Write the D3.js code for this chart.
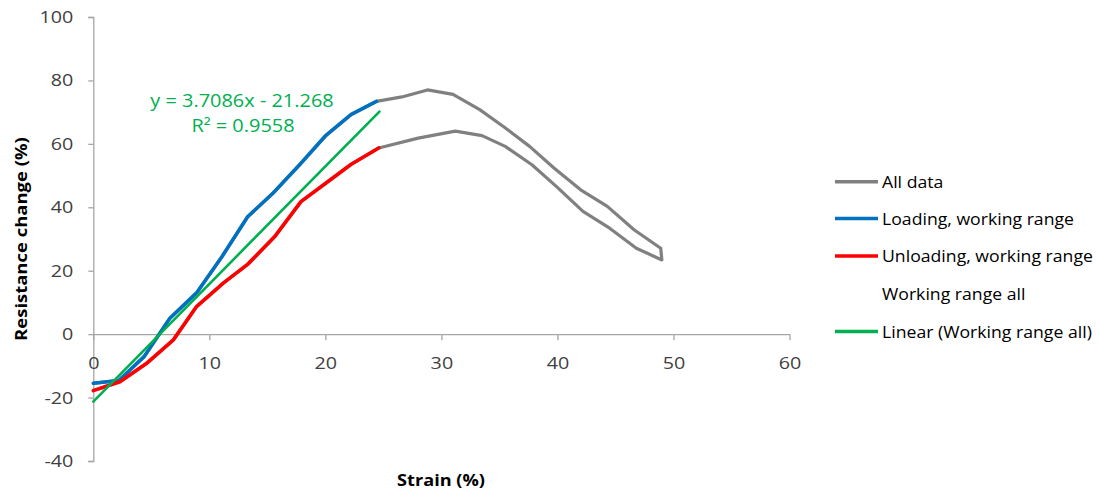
<!DOCTYPE html>
<html><head><meta charset="utf-8">
<script src="https://cdn.jsdelivr.net/npm/d3@7"></script>
<style>
body{margin:0;background:#fff;}
text{font-family:"Open Sans",Lato,sans-serif;}
</style></head>
<body><svg id="c" width="1099" height="492"></svg>
<script>
// ---- data ----
const allStrain = [0,2.2,4.4,6.6,8.9,11.1,13.3,15.5,17.8,20,22.2,24.4,26.6,28.8,31.0,33.3,35.4,37.6,39.7,42.0,44.3,46.6,48.9,49.0,46.8,44.5,42.2,39.9,37.8,35.5,33.5,31.2,28.0,24.6,22.2,20,17.9,15.6,13.3,11.2,8.9,6.9,4.6,2.3,0];
const allValue  = [-15.5,-14.6,-7.0,5.0,13.0,24.5,37.0,44.5,53.5,62.5,69.2,73.4,74.8,77.0,75.6,70.8,65.3,59.2,52.4,45.5,40.3,32.9,27.1,23.4,27.1,33.4,38.7,46.6,53.4,59.2,62.6,64.0,61.8,58.7,53.5,47.5,41.8,30.6,22.0,16.1,8.7,-1.8,-9.2,-15.0,-17.8];
const loadStrain = [0,2.2,4.4,6.6,8.9,11.1,13.3,15.5,17.8,20,22.2,24.4];
const loadValue  = [-15.5,-14.6,-7.0,5.0,13.0,24.5,37.0,44.5,53.5,62.5,69.2,73.4];
const unloadStrain = [0,2.3,4.6,6.9,8.9,11.2,13.3,15.6,17.9,20,22.2,24.6];
const unloadValue  = [-17.8,-15.0,-9.2,-1.8,8.7,16.1,22.0,30.6,41.8,47.5,53.5,58.7];
const fitSlope = 3.7086, fitIntercept = -21.268;
const fitRange = [0,24.66];
const xTicks = [0,10,20,30,40,50,60];
const yTicks = [-40,-20,0,20,40,60,80,100];
const legendLabels = ["All data","Loading, working range","Unloading, working range","Working range all","Linear (Working range all)"];
const legendColors = ["#808080","#0070C0","#FF0000",null,"#00B050"];

// ---- chart ----
const svg = d3.select("#c");
const x = d3.scaleLinear().domain([0,60]).range([93.3,789.5]);
const y = d3.scaleLinear().domain([-40,100]).range([461,17]);
const axisCol = "#a6a6a6", txtCol = "#404040";
const fmt = d => String(d);  // hyphen-minus like the original

// widen text horizontally (original font is wider than the available ones)
function stretch(sel, s){
  sel.each(function(){
    const t = d3.select(this);
    const xx = +t.attr("x") || 0, yy = +t.attr("y") || 0;
    t.attr("x",0).attr("y",0).attr("transform",`translate(${xx},${yy}) scale(${s},1)`);
  });
}

// y axis
const ya = svg.append("g").attr("transform",`translate(${x(0)},0)`)
  .call(d3.axisLeft(y).tickValues(yTicks).tickSize(5).tickPadding(15).tickFormat(fmt));
ya.select(".domain").attr("stroke",axisCol).attr("stroke-width",1.3);
ya.selectAll(".tick line").attr("stroke",axisCol).attr("stroke-width",1.3);
ya.selectAll(".tick text").attr("fill",txtCol).style("font-size","17px").style("font-family","'Open Sans',Lato,sans-serif");
stretch(ya.selectAll(".tick text"), 1.16);

// x axis at y=0
const xa = svg.append("g").attr("transform",`translate(0,${y(0)})`)
  .call(d3.axisBottom(x).tickValues(xTicks).tickSize(6).tickPadding(17).tickSizeOuter(0).tickFormat(fmt));
xa.select(".domain").attr("stroke",axisCol).attr("stroke-width",1.3);
xa.selectAll(".tick line").attr("stroke",axisCol).attr("stroke-width",1.3);
xa.selectAll(".tick text").attr("fill",txtCol).style("font-size","17px").style("font-family","'Open Sans',Lato,sans-serif");
stretch(xa.selectAll(".tick text"), 1.16);

// titles
svg.append("text").attr("transform",`translate(27,239) rotate(-90) scale(1.12,1)`).attr("text-anchor","middle")
  .style("font-size","16.5px").style("font-weight","bold").attr("fill","#000").text("Resistance change (%)");
stretch(svg.append("text").attr("x",441).attr("y",486).attr("text-anchor","middle")
  .style("font-size","16.5px").style("font-weight","bold").attr("fill","#000").text("Strain (%)"), 1.1);

const line = d3.line().x(d=>x(d[0])).y(d=>y(d[1]));
svg.append("path").datum(d3.zip(allStrain,allValue)).attr("d",line)
  .attr("fill","none").attr("stroke","#808080").attr("stroke-width",3.2).attr("stroke-linejoin","round");
svg.append("path").datum(d3.zip(loadStrain,loadValue)).attr("d",line)
  .attr("fill","none").attr("stroke","#0070C0").attr("stroke-width",3.6).attr("stroke-linejoin","round").attr("stroke-linecap","round");
svg.append("path").datum(d3.zip(unloadStrain,unloadValue)).attr("d",line)
  .attr("fill","none").attr("stroke","#FF0000").attr("stroke-width",3.6).attr("stroke-linejoin","round").attr("stroke-linecap","round");
svg.append("path").datum(fitRange.map(v=>[v,fitSlope*v+fitIntercept])).attr("d",line)
  .attr("fill","none").attr("stroke","#00B050").attr("stroke-width",2.6).attr("stroke-linecap","round");

// equation
stretch(svg.append("text").attr("x",242).attr("y",107).attr("text-anchor","middle").attr("fill","#00B050")
  .style("font-size","17.5px").text("y = 3.7086x - 21.268"), 1.14);
stretch(svg.append("text").attr("x",243).attr("y",132).attr("text-anchor","middle").attr("fill","#00B050")
  .style("font-size","17.5px").text("R² = 0.9558"), 1.14);

// legend
const rowsY = [181.7,218.5,256,293.5,331.5];
const lg = svg.append("g");
legendLabels.forEach((lab,i)=>{
  if(legendColors[i]) lg.append("line").attr("x1",835).attr("x2",878).attr("y1",rowsY[i]).attr("y2",rowsY[i])
     .attr("stroke",legendColors[i]).attr("stroke-width",3.6);
  stretch(lg.append("text").attr("x",882).attr("y",rowsY[i]+6).attr("fill","#000")
     .style("font-size","16.5px").text(lab), 1.07);
});
</script></body></html>
